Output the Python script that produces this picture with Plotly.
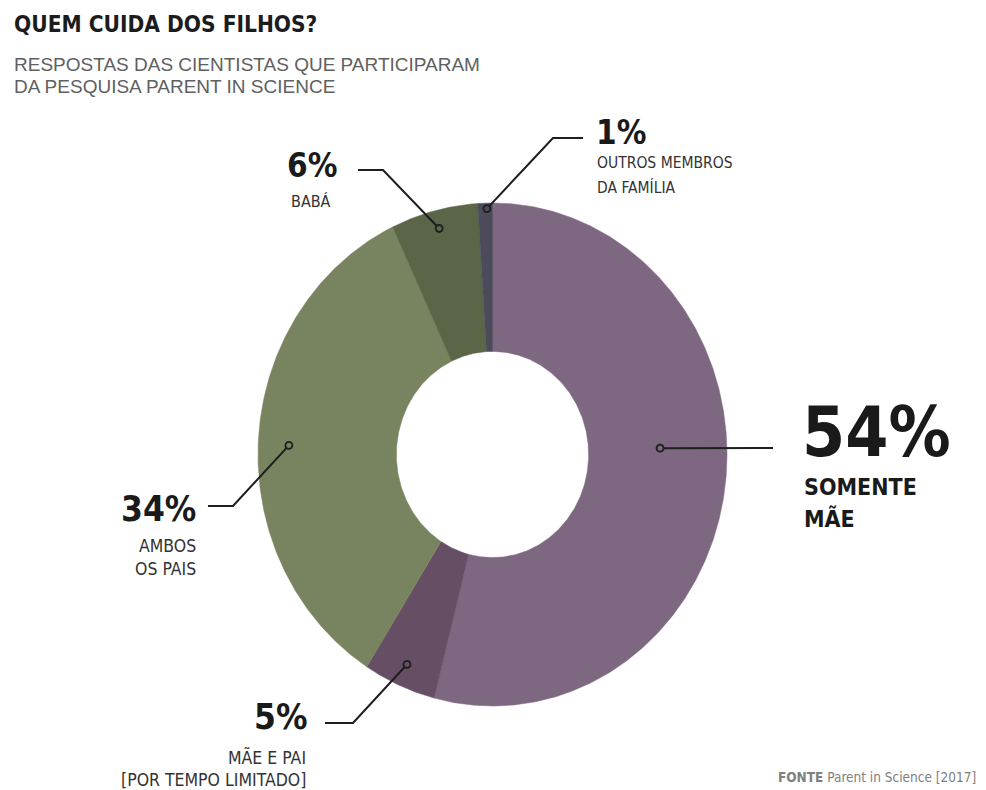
import math
import plotly.graph_objects as go

# --- data -------------------------------------------------------------
categories = ["SOMENTE MÃE", "MÃE E PAI [POR TEMPO LIMITADO]", "AMBOS OS PAIS",
              "BABÁ", "OUTROS MEMBROS DA FAMÍLIA"]
values = [54, 5, 34, 6, 1]
value_labels = ["54%", "5%", "34%", "6%", "1%"]
colors = ["#7e6780", "#664f65", "#78845f", "#5b6649", "#4b4b5b"]

title = "QUEM CUIDA DOS FILHOS?"
subtitle = ["RESPOSTAS DAS CIENTISTAS QUE PARTICIPARAM", "DA PESQUISA PARENT IN SCIENCE"]
source = "<b>FONTE</b> Parent in Science [2017]"

# --- geometry (canvas pixels) ------------------------------------------
W, H = 986, 790
CX, CY = 492.5, 454.5
RX, RY = 234.5, 251.5        # outer radii
HOLE = 0.41                  # inner radius as a fraction of outer

FONT = "DejaVu Sans Condensed, Liberation Sans Narrow, Roboto, sans-serif"
SUB_FONT = "Liberation Sans, Arial, sans-serif"


def pt(theta_deg, frac):
    """Point on the ring, angle measured clockwise from 12 o'clock."""
    t = math.radians(theta_deg)
    return CX + frac * RX * math.sin(t), CY - frac * RY * math.cos(t)


fig = go.Figure()

total = float(sum(values))
start = 0.0
for cat, v, col in zip(categories, values, colors):
    sweep = 360.0 * v / total
    n = max(int(sweep * 2), 4)
    angs = [start + sweep * i / n for i in range(n + 1)]
    outer = [pt(a, 1.0) for a in angs]
    inner = [pt(a, HOLE) for a in reversed(angs)]
    ring = outer + inner + [outer[0]]
    fig.add_trace(go.Scatter(
        x=[p[0] for p in ring], y=[p[1] for p in ring],
        mode="lines", fill="toself", fillcolor=col,
        line=dict(color=col, width=0.5), hoverinfo="text", text=cat,
        showlegend=False,
    ))
    start += sweep

# --- leader lines: (anchor angle, radius fraction, path to label) -------
leaders = [
    (88.0, 0.715, [(773, 448)]),
    (203.6, 0.911, [(353, 723), (325, 723)]),
    (272.4, 0.869, [(233, 506), (208, 506)]),
    (345.8, 0.927, [(383, 170), (358, 170)]),
    (358.6, 0.978, [(553, 138), (583, 138)]),
]
for (ang, frac, path), col in zip(leaders, colors):
    x0, y0 = pt(ang, frac)
    xs = [x0] + [p[0] for p in path]
    ys = [y0] + [p[1] for p in path]
    fig.add_trace(go.Scatter(x=xs, y=ys, mode="lines",
                             line=dict(color="#1e1e1e", width=2),
                             hoverinfo="skip", showlegend=False))
    fig.add_trace(go.Scatter(x=[x0], y=[y0], mode="markers",
                             marker=dict(size=7, color=col,
                                         line=dict(color="#1e1e1e", width=1.8)),
                             hoverinfo="skip", showlegend=False))


def label(text, x, y, size, anchor, weight="bold", color="#1a1a1a", family=FONT):
    fig.add_annotation(text=text, x=x, y=y, xref="x", yref="y",
                       xanchor=anchor, yanchor="middle", showarrow=False,
                       font=dict(family=family, size=size, color=color, weight=weight))


SMALL = "#333333"

# values and category names
label(value_labels[0], 800, 432, 69, "left")
label("SOMENTE", 802, 487, 23, "left")
label("MÃE", 802, 518, 23, "left")

label(value_labels[2], 198, 509, 35, "right")
label("AMBOS", 198, 546, 17.5, "right", weight="normal", color=SMALL)
label("OS PAIS", 198, 569, 17.5, "right", weight="normal", color=SMALL)

label(value_labels[1], 309, 717, 35, "right")
label("MÃE E PAI", 308, 757, 17.5, "right", weight="normal", color=SMALL)
label("[POR TEMPO LIMITADO]", 308, 780, 17.5, "right", weight="normal", color=SMALL)

label(value_labels[3], 312, 165, 33, "center")
label("BABÁ", 311, 201, 16, "center", weight="normal", color=SMALL)

label(value_labels[4], 594, 132, 33, "left")
label("OUTROS MEMBROS", 595, 163, 15.5, "left", weight="normal", color=SMALL)
label("DA FAMÍLIA", 595, 187, 15.5, "left", weight="normal", color=SMALL)

# title block and source
label(title, 12, 24, 22.5, "left", color="#1c1c1c")
label(subtitle[0], 12, 64, 19, "left", weight="normal", color="#606060", family=SUB_FONT)
label(subtitle[1], 12, 86, 19, "left", weight="normal", color="#606060", family=SUB_FONT)
label(source, 978, 777, 13.5, "right", weight="normal", color="#808080")

fig.update_layout(
    width=W, height=H,
    margin=dict(l=0, r=0, t=0, b=0),
    paper_bgcolor="white", plot_bgcolor="white",
    xaxis=dict(range=[0, W], visible=False, fixedrange=True),
    yaxis=dict(range=[H, 0], visible=False, fixedrange=True),
)

fig.write_html("out.html")
